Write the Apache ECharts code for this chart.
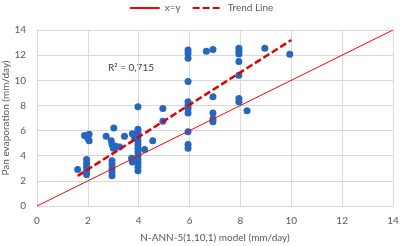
<!DOCTYPE html>
<html><head><meta charset="utf-8">
<script src="https://cdn.jsdelivr.net/npm/echarts@6/dist/echarts.min.js"></script>
<style>html,body{margin:0;padding:0;background:#fff}#c{width:402px;height:246px}</style>
</head><body><div id="c"></div>
<script>
// Observed points: model values (x) and pan evaporation (y)
const obsX = [1.6, 1.95,1.95,1.95,1.95,1.95, 1.87,2.05,2.0,2.05,
  2.95,2.95,2.95,2.95,2.95, 2.72,3.02,2.92,2.95,3.0,3.1,3.25,3.44,3.75,3.84, 3.75,3.72,
  3.97,3.97,3.97,3.97,3.97,3.97,3.97,3.97,3.97,3.97,3.97,3.97,3.97,
  4.23,4.55,4.95,4.95,
  5.94,5.94,5.94,5.94,5.94,5.94,5.94,5.94,5.94,5.94,5.94,
  6.66,6.92, 6.92,6.92,6.92,6.92,
  7.94,7.94,7.94,7.94,7.94,7.94,7.94, 8.26,8.96,9.94];
const obsY = [2.9, 2.5,2.8,3.1,3.4,3.7, 5.6,5.7,5.4,5.2,
  2.4,2.7,3.0,3.3,3.6, 5.55,6.2,5.2,4.9,4.6,4.75,4.7,5.55,5.75,5.4, 3.5,3.8,
  7.9,6.1,5.8,5.5,5.2,4.9,4.6,4.3,4.0,3.7,3.4,3.1,2.8,
  4.5,5.2,7.75,6.75,
  12.4,12.15,11.75,9.9,8.3,8.0,7.75,7.4,5.9,4.9,4.6,
  12.3,12.45, 8.7,7.4,6.95,6.7,
  12.55,12.3,12.1,11.5,10.4,8.55,8.3, 7.58,12.55,12.07];
const identX = [0, 14];
const identY = [0, 14];
const trendX = [1.6, 10];
const trendY = [2.4, 13.2];
const ticks = [0,2,4,6,8,10,12,14];
const r2Label = 'R\u00b2 = 0,715';

const zip = (a,b)=>a.map((v,i)=>[v,b[i]]);
const chart = echarts.init(document.getElementById('c'));
const font = 'Lato';
chart.setOption({
  animation:false,
  textStyle:{fontFamily:font},
  grid:{left:37,right:9,top:30,bottom:40,containLabel:false,outerBoundsMode:'none'},
  legend:{top:-2,left:'center',data:['x=y','Trend Line'],itemWidth:30,itemHeight:10,itemGap:11,
    itemStyle:{opacity:0},
    textStyle:{fontFamily:font,fontSize:10,color:'#595959'}},
  xAxis:{type:'value',min:0,max:14,interval:2,
    name:'N-ANN-5(1,10,1) model (mm/day)',nameLocation:'middle',nameGap:27,nameMoveOverlap:false,
    nameTextStyle:{fontFamily:font,fontSize:10,color:'#595959'},
    axisLine:{show:true,lineStyle:{color:'#D9D9D9'}},axisTick:{show:false},
    axisLabel:{fontFamily:font,fontSize:10,color:'#595959',margin:10,formatter:v=>ticks.includes(v)?String(v):''},
    splitLine:{lineStyle:{color:'#D9D9D9'}}},
  yAxis:{type:'value',min:0,max:14,interval:2,
    name:'Pan evaporation (mm/day)',nameLocation:'middle',nameGap:26,nameMoveOverlap:false,
    nameTextStyle:{fontFamily:font,fontSize:10,color:'#595959'},
    axisLine:{show:true,lineStyle:{color:'#D9D9D9'}},axisTick:{show:false},
    axisLabel:{fontFamily:font,fontSize:10,color:'#595959',margin:11},
    splitLine:{lineStyle:{color:'#D9D9D9'}}},
  series:[
    {name:'obs',type:'scatter',data:zip(obsX,obsY),symbolSize:7,itemStyle:{color:'#2566BE',opacity:1},z:2},
    {name:'x=y',type:'line',data:zip(identX,identY),symbol:'none',itemStyle:{color:'#FF0000'},lineStyle:{color:'#FF0000',width:1},z:3},
    {name:'Trend Line',type:'line',data:zip(trendX,trendY),symbol:'none',itemStyle:{color:'#E00000'},lineStyle:{color:'#E00000',width:2.5,type:[7,3]},z:4}
  ],
  graphic:[{type:'text',left:108,top:63,style:{text:r2Label,fontFamily:font,fontSize:10,fill:'#404040'}}]
});
</script></body></html>
